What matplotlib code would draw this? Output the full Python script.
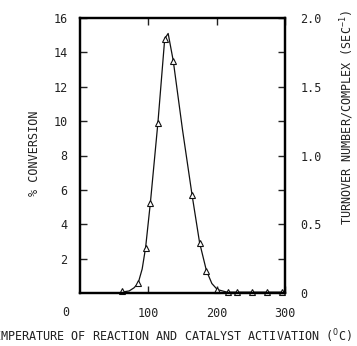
import numpy as np
import matplotlib
matplotlib.use('Agg')
import matplotlib.pyplot as plt

plt.rcParams['font.family'] = ['DejaVu Sans Mono']
plt.rcParams['font.size'] = 8.5

# measured points (triangles)
temp = [61, 85, 96, 103, 114, 124, 136.5, 164, 175, 185, 201, 216, 230, 252, 274, 295]
conv = [0.1, 0.56, 2.64, 5.25, 9.9, 14.8, 13.5, 5.7, 2.93, 1.3, 0.2, 0.05, 0.05, 0.05, 0.05, 0.05]

# hand drawn curve
curve_t = [61, 72, 79, 85, 91, 96, 103, 114, 124, 129, 136.5, 150, 164, 175, 185, 193, 201, 215, 300]
curve_p = [0.05, 0.12, 0.3, 0.56, 1.4, 2.64, 5.25, 9.9, 14.8, 15.1, 13.5, 9.5, 5.7, 2.93, 1.3, 0.55, 0.2, 0.05, 0.05]

fig = plt.figure(figsize=(3.57, 3.46), dpi=100)
ax = fig.add_axes([80/357, 1-293/346, 205/357, 275/346])

ax.plot(curve_t, curve_p, color='#111111', lw=0.9)
ax.plot(temp, conv, linestyle='none', marker='^', ms=4.8, mfc='white',
        mec='#111111', mew=0.8, clip_on=False)

ax.set_xlim(0, 300)
ax.set_ylim(0, 16)
for s in ax.spines.values():
    s.set_linewidth(1.6)

ax.set_xticks([100, 200, 300])
ax.set_xticklabels(['100', '200', '300'])
ax.set_yticks([2, 4, 6, 8, 10, 12, 14, 16])
ax.tick_params(direction='in', length=5, width=1, top=True, pad=10, colors='#222222')
ax.tick_params(axis='y', pad=9)
ax.annotate('0', xy=(0, 0), xytext=(-14, -19), textcoords='offset pixels',
            ha='center', va='center', color='#222222')

ax2 = ax.twinx()
ax2.set_ylim(0, 2.0)
ax2.set_yticks([0, 0.5, 1.0, 1.5, 2.0])
ax2.set_yticklabels(['0', '0.5', '1.0', '1.5', '2.0'])
ax2.set_yticks([0.25, 0.75, 1.25, 1.75], minor=True)
ax2.tick_params(which='both', direction='in', length=5, width=1, pad=11, colors='#222222')
for s in ax2.spines.values():
    s.set_linewidth(1.6)

fig.text(35/357, 1-153/346, '% CONVERSION', rotation=90, ha='center', va='center',
         color='#222222')
fig.text(347/357, 1-117/346, 'TURNOVER NUMBER/COMPLEX (SEC$^{\\mathregular{-1}}$)',
         rotation=90, ha='center', va='center', color='#222222')
fig.text(169/357, 1-336/346,
         'TEMPERATURE OF REACTION AND CATALYST ACTIVATION ($^{\\mathregular{O}}$C)',
         ha='center', va='center', color='#222222')

plt.savefig('out.png', dpi=100)
plt.close()
